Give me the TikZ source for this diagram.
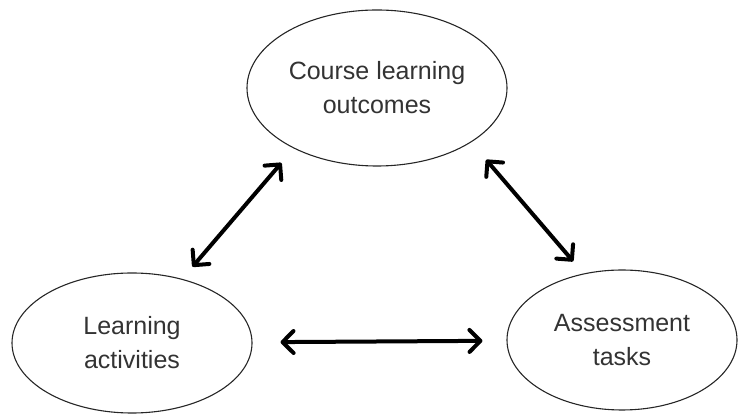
\documentclass[tikz,border=0pt]{standalone}
\usepackage{fontspec}
\setmainfont{Liberation Sans}
\usetikzlibrary{arrows.meta,shapes.geometric}

\begin{document}
\begin{tikzpicture}[x=1pt,y=1pt]
	\tikzstyle{bubble}=[ellipse,draw=black!85,line width=1.1pt,inner sep=0pt,align=center,text=black!80,font=\fontsize{25}{34}\selectfont]
	\tikzstyle{link}=[{Straight Barb[length=11pt,width=22pt,round]}-{Straight Barb[length=11pt,width=22pt,round]},line width=4pt]
	\useasboundingbox (0,0) rectangle (738,414);
	\node[bubble,minimum width=260pt,minimum height=156pt] (clo) at (377,326) {Course learning\\outcomes};
	\node[bubble,minimum width=240pt,minimum height=140pt] (act) at (132,71) {Learning\\activities};
	\node[bubble,minimum width=230pt,minimum height=140pt] (ast) at (622,74) {Assessment\\tasks};
	\draw[link,shorten <=16pt,shorten >=19pt] (act.52) -- (clo.216);
	\draw[link,shorten <=23pt,shorten >=16pt] (clo.330) -- (ast.120);
	\draw[link,shorten <=28pt,shorten >=24pt] (act) -- (ast);
\end{tikzpicture}
\end{document}
